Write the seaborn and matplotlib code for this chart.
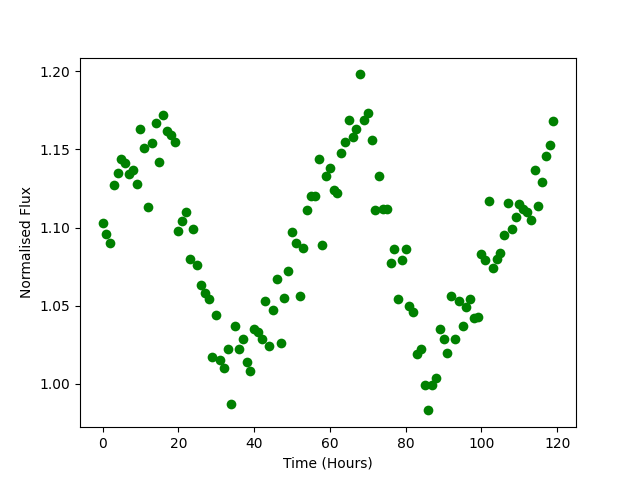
import numpy as np
import seaborn as sns
import matplotlib.pyplot as plt

hours = np.arange(120)
flux = [
    1.103, 1.096, 1.090, 1.127, 1.135, 1.144, 1.141, 1.134, 1.137, 1.128,
    1.163, 1.151, 1.113, 1.154, 1.167, 1.142, 1.172, 1.162, 1.159, 1.155,
    1.098, 1.104, 1.110, 1.080, 1.099, 1.076, 1.063, 1.058, 1.054, 1.017,
    1.044, 1.015, 1.010, 1.022, 0.987, 1.037, 1.022, 1.029, 1.014, 1.008,
    1.035, 1.033, 1.029, 1.053, 1.024, 1.047, 1.067, 1.026, 1.055, 1.072,
    1.097, 1.090, 1.056, 1.087, 1.111, 1.120, 1.120, 1.144, 1.089, 1.133,
    1.138, 1.124, 1.122, 1.148, 1.155, 1.169, 1.158, 1.163, 1.198, 1.169,
    1.173, 1.156, 1.111, 1.133, 1.112, 1.112, 1.077, 1.086, 1.054, 1.079,
    1.086, 1.050, 1.046, 1.019, 1.022, 0.999, 0.983, 0.999, 1.004, 1.035,
    1.029, 1.020, 1.056, 1.029, 1.053, 1.037, 1.049, 1.054, 1.042, 1.043,
    1.083, 1.079, 1.117, 1.074, 1.080, 1.084, 1.095, 1.116, 1.099, 1.107,
    1.115, 1.112, 1.110, 1.105, 1.137, 1.114, 1.129, 1.146, 1.153, 1.168,
]

fig, ax = plt.subplots(figsize=(6.4, 4.8), dpi=100)
sns.scatterplot(x=hours, y=flux, color='green', s=49, linewidth=0, ax=ax)
ax.set_xlabel('Time (Hours)')
ax.set_ylabel('Normalised Flux')
plt.savefig('out.png')
